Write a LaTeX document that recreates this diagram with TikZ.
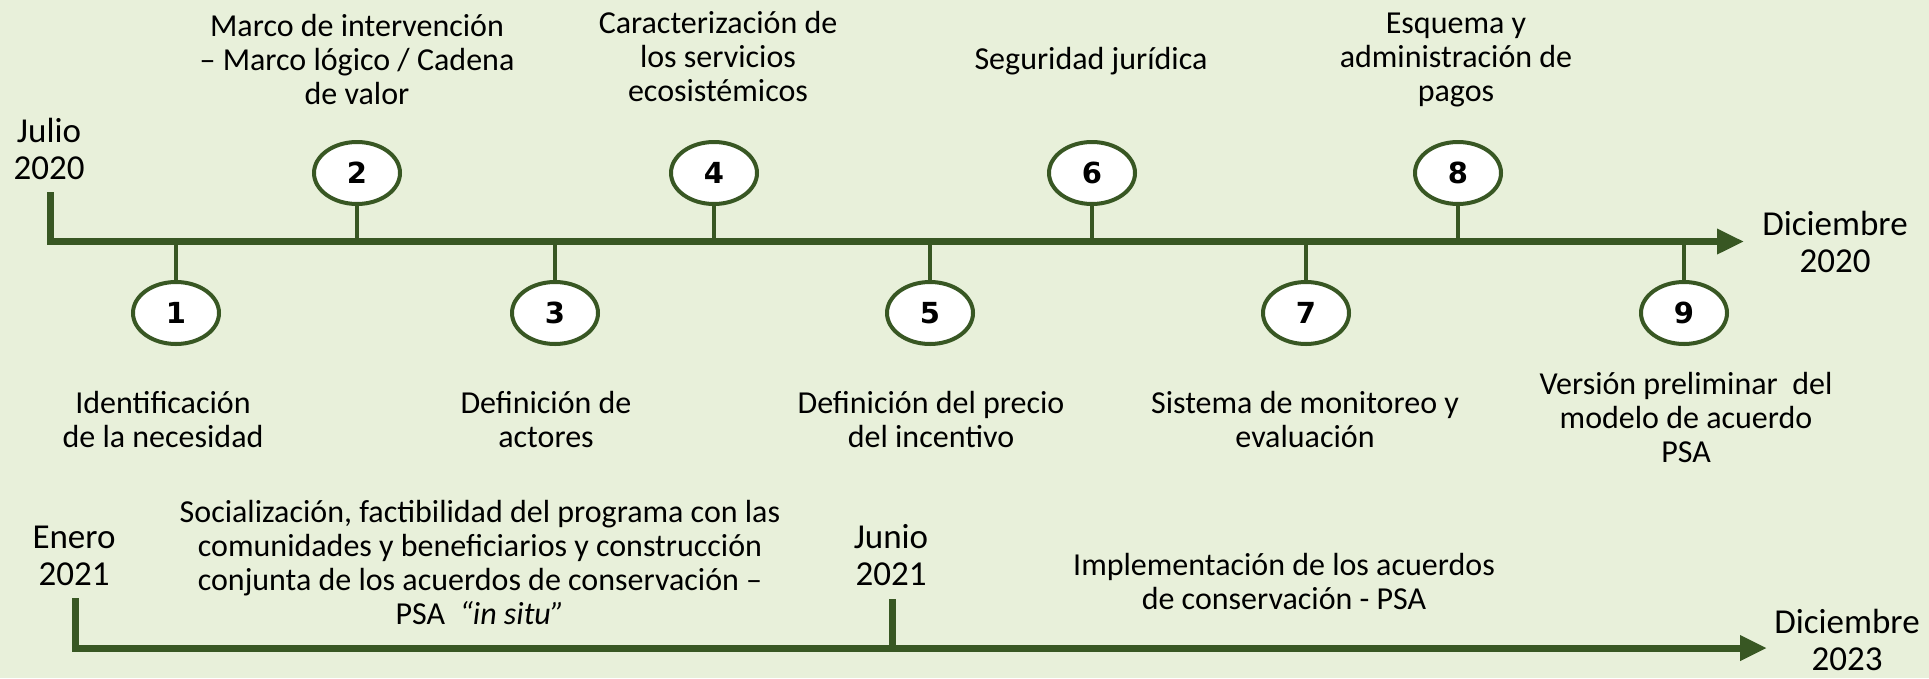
\documentclass[tikz,border=0pt]{standalone}
\usepackage{fontspec}
\setmainfont{Carlito}
\newfontfamily\numfont{DejaVu Sans}
\usetikzlibrary{arrows.meta, shapes.geometric}

\definecolor{leafgreen}{RGB}{56,87,35}
\definecolor{paleback}{RGB}{232,240,218}

\tikzset{
    axisline/.style={leafgreen, line width=7pt},
    axisarrow/.style={axisline, -{Triangle[length=27pt, width=24pt]}},
    stemline/.style={leafgreen, line width=4pt},
    stepmark/.style={ellipse, draw=leafgreen, fill=white, line width=4pt,
        minimum width=86pt, minimum height=62pt, inner sep=0pt,
        font=\numfont\bfseries\fontsize{29}{29}\selectfont},
    steptext/.style={align=center, inner sep=0pt, font=\fontsize{32}{34}\selectfont},
    datetext/.style={align=center, inner sep=0pt, font=\fontsize{35}{37.5}\selectfont}
}

\begin{document}
\begin{tikzpicture}[x=1pt, y=-1pt]

    % background and page size (pixels of the reference)
    \fill[paleback] (0,0) rectangle (1929,678);
    \useasboundingbox (0,0) rectangle (1929,678);

    % ================= 2020 TIMELINE (top) =================
    \coordinate (tstart)  at (50,192);
    \coordinate (tcorner) at (50,241.5);
    \coordinate (tend)    at (1744,241.5);
    \draw[axisarrow] (tstart) -- (tcorner) -- (tend);

    % steps below the axis
    \foreach \n/\x in {1/176, 3/555, 5/930, 7/1306, 9/1684} {
        \coordinate (s\n) at (\x,241.5);
        \node[stepmark] (c\n) at (\x,313) {\n};
        \draw[stemline] (s\n) -- (c\n);
    }
    % steps above the axis
    \foreach \n/\x in {2/357, 4/714, 6/1092, 8/1458} {
        \coordinate (s\n) at (\x,241.5);
        \node[stepmark] (c\n) at (\x,173) {\n};
        \draw[stemline] (s\n) -- (c\n);
    }

    % step labels
    \node[steptext] (l1) at (163,419)  {Identificación\\de la necesidad};
    \node[steptext] (l2) at (357,60)   {Marco de intervención\\– Marco lógico / Cadena\\de valor};
    \node[steptext] (l3) at (546,419)  {Definición de\\actores};
    \node[steptext] (l4) at (718,57)   {Caracterización de\\los servicios\\ecosistémicos};
    \node[steptext] (l5) at (931,419)  {Definición del precio\\del incentivo};
    \node[steptext] (l6) at (1091,61)  {Seguridad jurídica};
    \node[steptext] (l7) at (1305,419) {Sistema de monitoreo y\\evaluación};
    \node[steptext] (l8) at (1456,60)  {Esquema y\\administración de\\pagos};
    \node[steptext] (l9) at (1686,417) {Versión preliminar\ \ del\\modelo de acuerdo\\PSA};

    % dates
    \node[datetext] (jul20) at (49,149)   {Julio\\2020};
    \node[datetext] (dic20) at (1835,242) {Diciembre\\2020};

    % ================= 2021-2023 TIMELINE (bottom) =================
    \coordinate (bstart)  at (75,598);
    \coordinate (bcorner) at (75,648);
    \coordinate (bend)    at (1767,648);
    \coordinate (jtop)    at (892,599);
    \coordinate (jbase)   at (892,648);
    \draw[axisarrow] (bstart) -- (bcorner) -- (bend);
    \draw[axisline] (jtop) -- (jbase);

    \node[datetext] (ene21) at (74,556)   {Enero\\2021};
    \node[datetext] (jun21) at (891,555)  {Junio\\2021};
    \node[datetext] (dic23) at (1847,640) {Diciembre\\2023};

    \node[steptext] (soc) at (480,562) {Socialización, factibilidad del programa con las\\comunidades y beneficiarios y construcción\\conjunta de los acuerdos de conservación –\\PSA\ \ \textit{“in situ”}};
    \node[steptext] (impl) at (1284,581) {Implementación de los acuerdos\\de conservación - PSA};

\end{tikzpicture}
\end{document}
